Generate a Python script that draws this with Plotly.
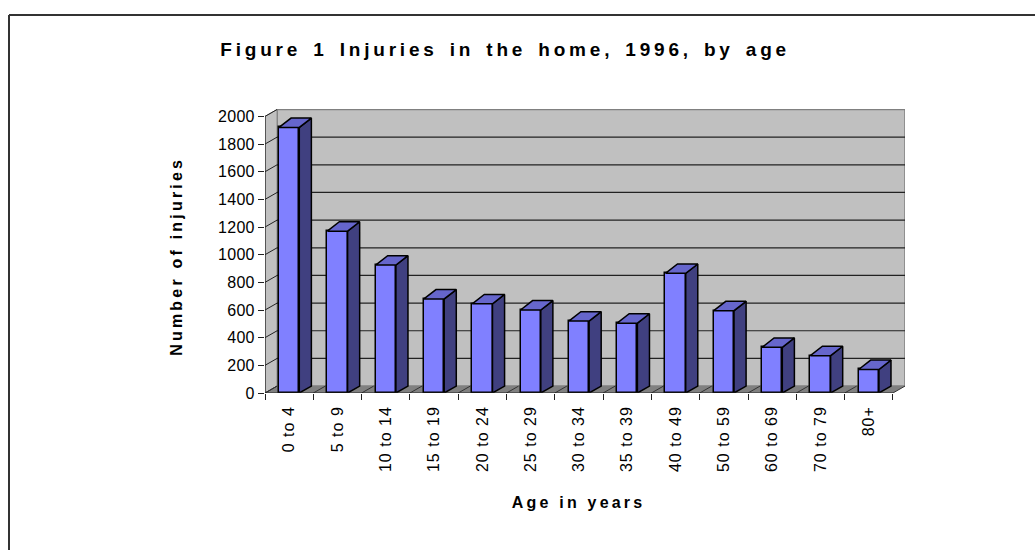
import plotly.graph_objects as go

# ---------------- data ----------------
age_groups = ["0 to 4", "5 to 9", "10 to 14", "15 to 19", "20 to 24", "25 to 29",
              "30 to 34", "35 to 39", "40 to 49", "50 to 59", "60 to 69", "70 to 79", "80+"]
injuries = [1920, 1170, 925, 680, 645, 600, 520, 505, 865, 595, 330, 270, 170]
y_ticks = [0, 200, 400, 600, 800, 1000, 1200, 1400, 1600, 1800, 2000]

title_text = "Figure 1 Injuries in the home, 1996, by age"
y_title = "Number of injuries"
x_title = "Age in years"

# ---------------- style / geometry ----------------
FONT = "Arial, Liberation Sans, sans-serif"
FRONT = "#8080FF"
SIDE = "#404080"
TOP = "#6666CC"
WALL = "#C0C0C0"
FLOOR = "#808080"

W, H = 1035, 550
L = 265
T = 109
R = W - 905
B = H - 393
n = len(age_groups)
XMIN, XMAX = -0.5, n - 0.5 + 0.25
pw, ph = W - L - R, H - T - B
YMAX = 2000 * ph / 276.6
DX = 0.25        # depth offset in category units
WDY = 50         # wall depth offset in value units
BDY0, BDY1 = 50, 68   # bar depth offsets (bottom, top)
HALF = 0.21      # half bar width

fig = go.Figure()

shapes = []
# back wall
shapes.append(dict(type="path", layer="below",
                   path=f"M {XMIN+DX},{WDY} L {n-0.5+DX},{WDY} L {n-0.5+DX},{2000+WDY} L {XMIN+DX},{2000+WDY} Z",
                   fillcolor=WALL, line=dict(color="#808080", width=1.5)))
# left wall
shapes.append(dict(type="path", layer="below",
                   path=f"M {XMIN},0 L {XMIN+DX},{WDY} L {XMIN+DX},{2000+WDY} L {XMIN},2000 Z",
                   fillcolor=WALL, line=dict(color="#808080", width=1)))
# floor
shapes.append(dict(type="path", layer="below",
                   path=f"M {XMIN},0 L {n-0.5},0 L {n-0.5+DX},{WDY} L {XMIN+DX},{WDY} Z",
                   fillcolor=FLOOR, line=dict(color="#808080", width=0)))
# gridlines on back wall and left wall
for v in y_ticks[1:-1]:
    shapes.append(dict(type="line", layer="below", x0=XMIN+DX, x1=n-0.5+DX, y0=v+WDY, y1=v+WDY,
                       line=dict(color="#222222", width=1.2)))
for v in y_ticks:
    shapes.append(dict(type="line", layer="below", x0=XMIN, x1=XMIN+DX, y0=v, y1=v+WDY,
                       line=dict(color="#222222", width=1)))
# floor diagonals at category boundaries
for k in range(n + 1):
    b = k - 0.5
    shapes.append(dict(type="line", layer="below", x0=b, x1=b+DX, y0=0, y1=WDY,
                       line=dict(color="#333333", width=1)))
# front axis lines
shapes.append(dict(type="line", x0=XMIN, x1=XMIN, y0=0, y1=2000, line=dict(color="#222222", width=1.2)))
shapes.append(dict(type="line", x0=XMIN, x1=n-0.5, y0=0, y1=0, line=dict(color="#222222", width=1.2)))

# front faces
fig.add_trace(go.Bar(x=list(range(n)), y=injuries, width=2*HALF,
                     marker=dict(color=FRONT, line=dict(color="black", width=1.5)),
                     hoverinfo="skip", showlegend=False))

# side and top faces
for i, v in enumerate(injuries):
    x0, x1 = i - HALF, i + HALF
    fig.add_trace(go.Scatter(
        x=[x1, x1 + DX, x1 + DX, x1, x1],
        y=[0, BDY0, v + BDY1, v, 0],
        mode="lines", fill="toself", fillcolor=SIDE,
        line=dict(color="black", width=1.5), hoverinfo="skip", showlegend=False))
    fig.add_trace(go.Scatter(
        x=[x0, x0 + DX, x1 + DX, x1, x0],
        y=[v, v + BDY1, v + BDY1, v, v],
        mode="lines", fill="toself", fillcolor=TOP,
        line=dict(color="black", width=1.5), hoverinfo="skip", showlegend=False))


def px(xpage):
    return (xpage - L) / pw


def py(ypage):
    return (H - B - ypage) / ph


# outer border: only the top and left edges are visible in the reference
shapes.append(dict(type="line", xref="paper", yref="paper",
                   x0=px(9), x1=px(1040), y0=py(15), y1=py(15),
                   line=dict(color="#333333", width=2), layer="above"))
shapes.append(dict(type="line", xref="paper", yref="paper",
                   x0=px(9), x1=px(9), y0=py(15), y1=py(560),
                   line=dict(color="#333333", width=2), layer="above"))

annotations = [
    dict(text=title_text, x=px(505), y=py(49), xref="paper", yref="paper", showarrow=False,
         font=dict(family=FONT, size=19, color="black", weight="bold"), xanchor="center", yanchor="middle"),
    dict(text=y_title, x=px(176), y=py(257), xref="paper", yref="paper", showarrow=False, textangle=-90,
         font=dict(family=FONT, size=16, color="black", weight="bold"), xanchor="center", yanchor="middle"),
    dict(text=x_title, x=px(578), y=py(502), xref="paper", yref="paper", showarrow=False,
         font=dict(family=FONT, size=16, color="black", weight="bold"), xanchor="center", yanchor="middle"),
]

fig.update_layout(
    width=W, height=H,
    margin=dict(l=L, r=R, t=T, b=B, pad=0),
    paper_bgcolor="white", plot_bgcolor="white",
    shapes=shapes, annotations=annotations,
    bargap=0, showlegend=False,
    xaxis=dict(range=[XMIN, XMAX], tickmode="array", tickvals=list(range(n)), ticktext=age_groups,
               tickangle=-90, ticks="", showgrid=False, zeroline=False, showline=False,
               tickfont=dict(family=FONT, size=16, color="black"), ticklabelstandoff=9,
               minor=dict(tickmode="array", tickvals=[k - 0.5 for k in range(n + 1)], ticks="outside",
                          ticklen=6, tickcolor="#222222", tickwidth=1, showgrid=False),
               fixedrange=True),
    yaxis=dict(range=[0, YMAX], tickmode="array", tickvals=y_ticks, ticks="outside", ticklen=6,
               tickcolor="#222222", showgrid=False, zeroline=False, showline=False,
               tickfont=dict(family=FONT, size=16, color="black"), fixedrange=True),
)

post = """
document.body.style.margin = '0';
document.body.style.overflow = 'hidden';
var gd = document.getElementById('{plot_id}');
function spacing(){
  var anns = gd.querySelectorAll('.annotation-text');
  anns.forEach(function(e, k){
    if (k === 0) { e.style.letterSpacing = '3.8px'; e.style.wordSpacing = '3px'; }
    else { e.style.letterSpacing = '3.2px'; }
  });
  gd.querySelectorAll('.xtick text').forEach(function(e){ e.style.letterSpacing = '1px'; });
  gd.querySelectorAll('.ytick text').forEach(function(e){ e.style.letterSpacing = '0.3px'; });
}
spacing();
gd.on('plotly_afterplot', spacing);
"""

fig.write_html("out.html", post_script=post, config=dict(displayModeBar=False))
